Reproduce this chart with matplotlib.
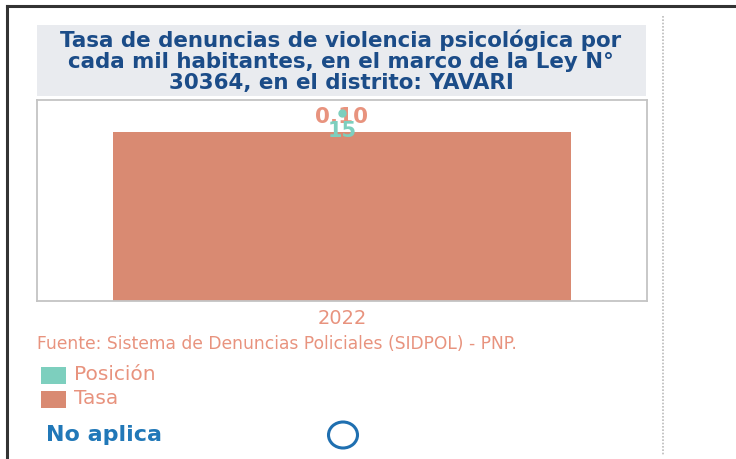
import matplotlib
matplotlib.use("Agg")
import matplotlib.pyplot as plt
from matplotlib.patches import Rectangle, Ellipse
from matplotlib.lines import Line2D

plt.rcParams['font.family'] = ['DejaVu Sans']

years = ["2022"]
tasa = [0.10]
posicion = [15]
tasa_labels = ["0.10"]
pos_labels = ["15"]

title = "Tasa de denuncias de violencia psicológica por\ncada mil habitantes, en el marco de la Ley N°\n30364, en el distrito: YAVARI"
source = "Fuente: Sistema de Denuncias Policiales (SIDPOL) - PNP."
legend_items = ["Posición", "Tasa"]
status = "No aplica"

W, H = 736, 459
BAR = "#D98A72"
TEAL = "#7DCFBE"
SALMON = "#E8937E"
TITLE_C = "#1B4C88"
BLUE = "#2178B8"

fig = plt.figure(figsize=(W/100, H/100), dpi=100)

def fx(x): return x / W
def fy(y): return 1 - y / H

# outer frame (top and left edges)
fig.add_artist(Line2D([fx(7), fx(7)], [fy(6), 0], color="#333333", lw=2.2, transform=fig.transFigure))
fig.add_artist(Line2D([fx(7), 1], [fy(6), fy(6)], color="#333333", lw=2.2, transform=fig.transFigure))
# dotted divider
fig.add_artist(Line2D([fx(663), fx(663)], [fy(16), fy(455)], color="#BBBBBB", lw=1.2, ls=(0, (1, 1)), transform=fig.transFigure))

# title box
fig.add_artist(Rectangle((fx(37), fy(96)), fx(646) - fx(37), fy(25) - fy(96), transform=fig.transFigure,
                         facecolor="#E9EBEF", edgecolor="none"))
fig.text(fx(341), fy(61), title, ha="center", va="center", fontsize=15.4, fontweight="bold",
         color=TITLE_C, linespacing=1.06)

# chart axes
ax = fig.add_axes([fx(37), fy(301), fx(647) - fx(37), fy(100) - fy(301)])
x = list(range(len(years)))
ax.bar(x, tasa, width=0.75, color=BAR, zorder=2)
ax.set_xlim(-0.5, 0.5)
ax.set_ylim(0, 0.119)
ax.set_yticks([])
ax.set_xticks(x)
ax.set_xticklabels(years, fontsize=14, color=SALMON)
ax.tick_params(axis="x", length=0, pad=6)
for s in ax.spines.values():
    s.set_color("#C4C4C4")
    s.set_linewidth(1.3)
for i, v in enumerate(tasa):
    ax.annotate(tasa_labels[i], (x[i], v), xytext=(0, 3.5), textcoords="offset points",
                ha="center", va="bottom", fontsize=15.5, fontweight="bold", color=SALMON, zorder=4)

ax2 = ax.twinx()
ax2.set_ylim(0, 16)
ax2.plot(x, posicion, "o", color=TEAL, markersize=5, zorder=5)
for i, v in enumerate(posicion):
    ax2.annotate(pos_labels[i], (x[i], v), xytext=(0, -6), textcoords="offset points",
                 ha="center", va="top", fontsize=15, fontweight="bold", color=TEAL, zorder=5)
ax2.set_yticks([])
for s in ax2.spines.values():
    s.set_visible(False)

# source
fig.text(fx(37), fy(344), source, ha="left", va="center", fontsize=12.3, color=SALMON)

# legend
for j, (lab, col) in enumerate(zip(legend_items, [TEAL, BAR])):
    yc = 375 + j * 24
    fig.add_artist(Rectangle((fx(41), fy(yc + 8.5)), fx(66) - fx(41), fy(yc - 8.5) - fy(yc + 8.5),
                             transform=fig.transFigure, facecolor=col, edgecolor="none"))
    fig.text(fx(74), fy(yc), lab, ha="left", va="center", fontsize=14.5, color=SALMON)

fig.text(fx(46), fy(435), status, ha="left", va="center", fontsize=16, fontweight="bold", color=BLUE)
fig.add_artist(Ellipse((fx(343), fy(435)), fx(29), fy(0) - fy(26), transform=fig.transFigure,
                       facecolor="none", edgecolor="#1F6FB0", lw=2.2))

fig.savefig("out.png", dpi=100)
